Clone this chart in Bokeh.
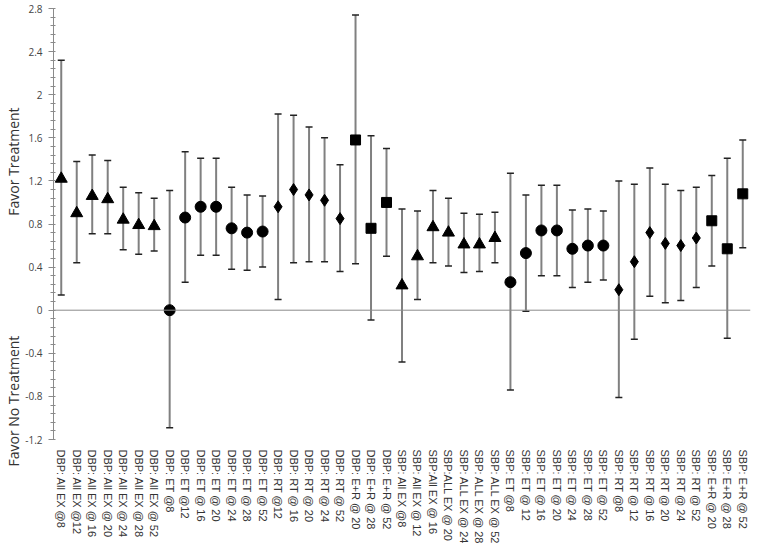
import math
import numpy as np
from bokeh.plotting import figure
from bokeh.models import (ColumnDataSource, FactorRange, Range1d, Whisker, TeeHead,
                          Span, Title, FixedTicker, CustomJSTickFormatter)
from bokeh.embed import file_html
from bokeh.resources import INLINE

labels = [
    "DBP: All EX @8", "DBP: All EX @12", "DBP: All EX @ 16", "DBP: All EX @ 20",
    "DBP: All EX @ 24", "DBP: All EX @ 28", "DBP: All EX @ 52",
    "DBP: ET @8", "DBP: ET @12", "DBP: ET @ 16", "DBP: ET @ 20", "DBP: ET @ 24",
    "DBP: ET @ 28", "DBP: ET @ 52",
    "DBP: RT @12", "DBP: RT @ 16", "DBP: RT @ 20", "DBP: RT @ 24", "DBP: RT @ 52",
    "DBP: E+R @ 20", "DBP: E+R @ 28", "DBP: E+R @ 52",
    "SBP: All EX @8", "SBP: All EX @ 12", "SBP:All EX @ 16", "SBP:ALL EX @ 20",
    "SBP: ALL EX @ 24", "SBP: ALL EX @ 28", "SBP: ALL EX @ 52",
    "SBP: ET @8", "SBP: ET @ 12", "SBP: ET @ 16", "SBP: ET @ 20", "SBP: ET @ 24",
    "SBP: ET @ 28", "SBP: ET @ 52",
    "SBP: RT @8", "SBP: RT @ 12", "SBP: RT @ 16", "SBP: RT @ 20", "SBP: RT @ 24",
    "SBP: RT @ 52",
    "SBP: E+R @ 20", "SBP: E+R @ 28", "SBP: E+R @ 52",
]

estimate = [1.22, 0.90, 1.06, 1.03, 0.84, 0.79, 0.78,
            0.00, 0.86, 0.96, 0.96, 0.76, 0.72, 0.73,
            0.96, 1.12, 1.07, 1.02, 0.85,
            1.58, 0.76, 1.00,
            0.23, 0.50, 0.77, 0.72, 0.61, 0.61, 0.67,
            0.26, 0.53, 0.74, 0.74, 0.57, 0.60, 0.60,
            0.19, 0.45, 0.72, 0.62, 0.60, 0.67,
            0.83, 0.57, 1.08]

upper = [2.32, 1.38, 1.44, 1.39, 1.14, 1.09, 1.04,
         1.11, 1.47, 1.41, 1.41, 1.14, 1.07, 1.06,
         1.82, 1.81, 1.70, 1.60, 1.35,
         2.74, 1.62, 1.50,
         0.94, 0.92, 1.11, 1.04, 0.90, 0.89, 0.91,
         1.27, 1.07, 1.16, 1.16, 0.93, 0.94, 0.92,
         1.20, 1.17, 1.32, 1.17, 1.11, 1.14,
         1.25, 1.41, 1.58]

lower = [0.14, 0.44, 0.71, 0.71, 0.56, 0.52, 0.55,
         -1.09, 0.26, 0.51, 0.51, 0.38, 0.37, 0.40,
         0.10, 0.44, 0.45, 0.45, 0.36,
         0.43, -0.09, 0.50,
         -0.48, 0.10, 0.44, 0.41, 0.35, 0.36, 0.44,
         -0.74, -0.01, 0.32, 0.32, 0.21, 0.26, 0.28,
         -0.81, -0.27, 0.13, 0.07, 0.09, 0.21,
         0.41, -0.26, 0.58]

markers = (["triangle"] * 7 + ["circle"] * 7 + ["diamond"] * 5 + ["square"] * 3 +
           ["triangle"] * 7 + ["circle"] * 7 + ["diamond"] * 6 + ["square"] * 3)

marker_sizes = {"triangle": 12, "circle": 11, "diamond": 12, "square": 10}

y_ticks = [-1.2, -0.8, -0.4, 0, 0.4, 0.8, 1.2, 1.6, 2.0, 2.4, 2.8]

side_text_low = "Favor No Treatment"
side_text_high = "Favor Treatment"

src = ColumnDataSource(dict(
    x=labels, est=estimate, up=upper, lo=lower, marker=markers,
    size=[marker_sizes[m] for m in markers],
))

p = figure(width=752, height=547, x_range=FactorRange(factors=labels, range_padding=0),
           y_range=Range1d(-1.2, 2.8), output_backend="svg", toolbar_location=None,
           min_border_left=53, min_border_top=8, min_border_right=2, min_border_bottom=100)

p.outline_line_color = None
p.xgrid.grid_line_color = None
p.ygrid.grid_line_color = None
p.background_fill_color = "white"
p.border_fill_color = "white"

# zero line
p.add_layout(Span(location=0, dimension="width", line_color="#8a8a8a", line_width=1))

# error bars
wh = Whisker(source=src, base="x", upper="up", lower="lo",
             line_color="#808080", line_width=2,
             upper_head=TeeHead(size=7, line_color="#222222", line_width=1.5),
             lower_head=TeeHead(size=7, line_color="#222222", line_width=1.5))
p.add_layout(wh)

p.scatter(x="x", y="est", marker="marker", size="size", source=src,
          fill_color="black", line_color="black")

# y axis
minor = [round(v, 2) for v in np.arange(-1.2, 2.8001, 0.08)]
p.yaxis.ticker = FixedTicker(ticks=y_ticks, minor_ticks=minor)
p.yaxis.formatter = CustomJSTickFormatter(code="return String(Math.round(tick*10)/10);")
p.yaxis.axis_line_color = "#8a8a8a"
p.yaxis.major_tick_line_color = "#8a8a8a"
p.yaxis.minor_tick_line_color = "#8a8a8a"
p.yaxis.major_tick_out = 5
p.yaxis.major_tick_in = 0
p.yaxis.minor_tick_out = 3
p.yaxis.minor_tick_in = 2
p.yaxis.major_label_text_font = "Open Sans"
p.yaxis.major_label_text_font_size = "10px"
p.yaxis.major_label_text_color = "#444444"
p.yaxis.major_label_standoff = 6

# x axis
p.xaxis.axis_line_color = None
p.xaxis.major_tick_line_color = None
p.xaxis.minor_tick_line_color = None
p.xaxis.major_label_orientation = -math.pi / 2
p.xaxis.major_label_text_font = "Liberation Sans"
p.xaxis.major_label_text_font_size = "11px"
p.xaxis.major_label_text_color = "#333333"
p.xaxis.major_label_standoff = 4

# side labels (one left-side title, two phrases separated by non-breaking spaces)
side = Title(text=side_text_low + "\u00a0" * 33 + side_text_high, align="left", offset=-27,
             text_font="Open Sans", text_font_size="14px", text_font_style="normal",
             text_color="#333333", standoff=0)
p.add_layout(side, "left")

open("out.html", "w").write(file_html(p, INLINE))
